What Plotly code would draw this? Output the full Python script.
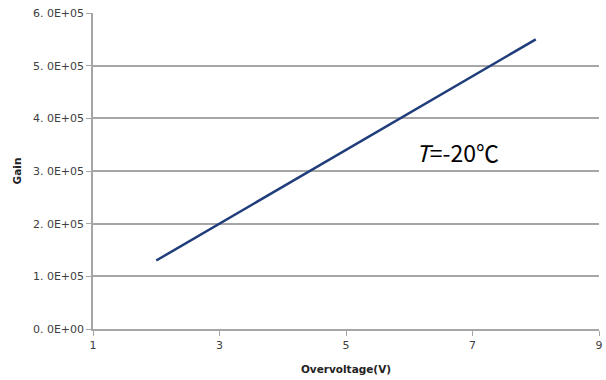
import plotly.graph_objects as go

overvoltage = [2, 3, 4, 5, 6, 7, 8]
gain = [1.3e5, 2.0e5, 2.7e5, 3.4e5, 4.1e5, 4.8e5, 5.5e5]

x_ticks = [1, 3, 5, 7, 9]
y_ticks = [0, 1e5, 2e5, 3e5, 4e5, 5e5, 6e5]
y_tick_labels = ["0. 0E+00", "1. 0E+05", "2. 0E+05", "3. 0E+05", "4. 0E+05", "5. 0E+05", "6. 0E+05"]

fig = go.Figure()
fig.add_trace(go.Scatter(x=overvoltage, y=gain, mode="lines",
                         line=dict(color="#1F3D7A", width=2.5), showlegend=False, cliponaxis=False))

fig.add_annotation(x=6.08, y=3.36e5, xref="x", yref="y", text="<i>T</i>=-20℃",
                   showarrow=False, font=dict(family="Noto Sans CJK SC", size=23, color="#000000"),
                   xanchor="left", yanchor="middle")

axis_col = "#A6A6A6"
fig.update_layout(
    width=606, height=380,
    margin=dict(l=93, r=7, t=13, b=51),
    paper_bgcolor="white", plot_bgcolor="white",
    font=dict(family="DejaVu Sans", size=10, color="#404040"),
    xaxis=dict(range=[1, 9], tickvals=x_ticks, showgrid=False, zeroline=False, automargin=False,
               showline=True, linecolor=axis_col, linewidth=1.5,
               ticks="outside", ticklen=5, tickcolor=axis_col,
               tickfont=dict(size=11, color="#404040"),
               title=dict(text="<b>Overvoltage(V)</b>", font=dict(size=10.5, color="#222222"), standoff=15)),
    yaxis=dict(range=[0, 6e5], tickvals=y_ticks, ticktext=y_tick_labels, automargin=False,
               showgrid=True, gridcolor=axis_col, gridwidth=1.5, zeroline=False,
               showline=True, linecolor=axis_col, linewidth=1.5,
               ticks="outside", ticklen=5, tickcolor=axis_col,
               tickfont=dict(size=11, color="#404040"),
               title=dict(text="<b>Gain</b>", font=dict(size=10.5, color="#222222"), standoff=9)),
)

fig.write_html("out.html", config={"displayModeBar": False},
               post_script="document.body.style.margin='0';document.body.style.padding='0';")
